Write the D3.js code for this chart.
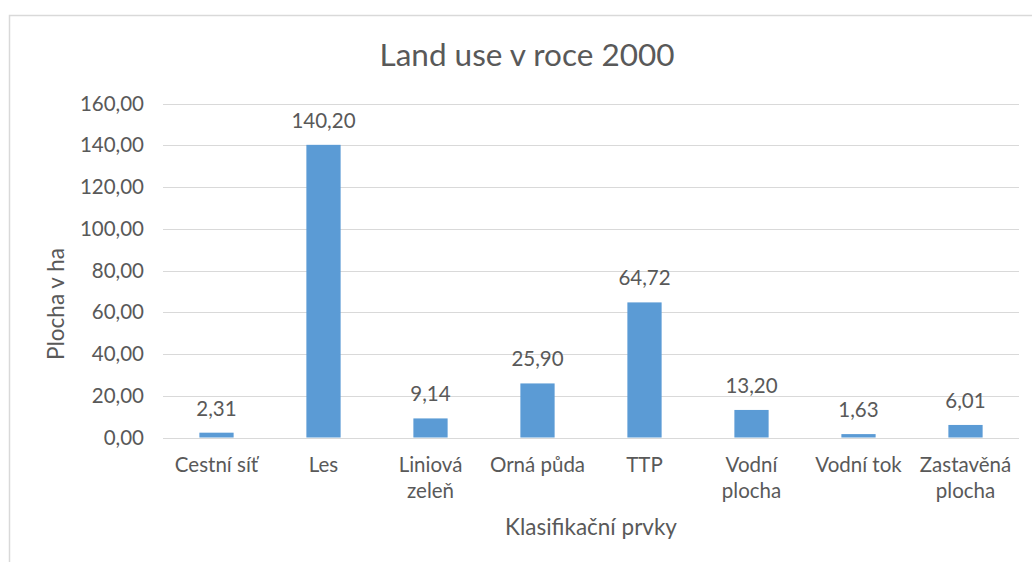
<!DOCTYPE html>
<html>
<head>
<meta charset="utf-8">
<script src="https://cdn.jsdelivr.net/npm/d3@7"></script>
<style>
    body { margin: 0; background: #fff; }
    text { font-family: Lato, "Open Sans", sans-serif; fill: #595959; }
</style>
</head>
<body>
<div id="chart"></div>
<script>
const categories = ['Cestní síť', 'Les', 'Liniová zeleň', 'Orná půda', 'TTP', 'Vodní plocha', 'Vodní tok', 'Zastavěná plocha'];
const categoryLines = [['Cestní síť'], ['Les'], ['Liniová', 'zeleň'], ['Orná půda'], ['TTP'], ['Vodní', 'plocha'], ['Vodní tok'], ['Zastavěná', 'plocha']];
const values = [2.31, 140.20, 9.14, 25.90, 64.72, 13.20, 1.63, 6.01];
const yTicks = [0, 20, 40, 60, 80, 100, 120, 140, 160];

const width = 1032;
const height = 562;
const margin = { top: 103.5, right: 13, bottom: 124.5, left: 163 };
const labelSize = 20.5;

const fmt = (v) => v.toFixed(2).replace('.', ',');

const svg = d3.select('#chart')
    .append('svg')
    .attr('width', width)
    .attr('height', height);

// chart area border
svg.append('path')
    .attr('d', `M9.5,${height} V15.5 H${width}`)
    .attr('fill', 'none')
    .attr('stroke', '#d9d9d9')
    .attr('stroke-width', 1.5);

const x = d3.scaleBand()
    .domain(categories)
    .range([margin.left, width - margin.right])
    .paddingInner(0.68)
    .paddingOuter(0.34);

const y = d3.scaleLinear()
    .domain([0, 160])
    .range([height - margin.bottom, margin.top]);

// gridlines
svg.append('g')
    .selectAll('line')
    .data(yTicks)
    .join('line')
    .attr('x1', margin.left)
    .attr('x2', width - margin.right)
    .attr('y1', (d) => Math.round(y(d)) + 0.5)
    .attr('y2', (d) => Math.round(y(d)) + 0.5)
    .attr('stroke', '#d9d9d9')
    .attr('stroke-width', 1);

// y axis labels
const yAxis = svg.append('g')
    .attr('transform', `translate(${margin.left - 19},0)`)
    .call(d3.axisLeft(y).tickValues(yTicks).tickFormat(fmt).tickSize(0).tickPadding(0));
yAxis.select('.domain').remove();
yAxis.selectAll('text')
    .attr('font-size', labelSize)
    .attr('font-family', 'Lato, "Open Sans", sans-serif')
    .attr('fill', '#595959');

// bars
svg.append('g')
    .selectAll('rect')
    .data(values)
    .join('rect')
    .attr('x', (d, i) => x(categories[i]))
    .attr('width', x.bandwidth())
    .attr('y', (d) => y(d))
    .attr('height', (d) => y(0) - y(d))
    .attr('fill', '#5b9bd5');

// data labels
svg.append('g')
    .selectAll('text')
    .data(values)
    .join('text')
    .attr('x', (d, i) => x(categories[i]) + x.bandwidth() / 2)
    .attr('y', (d) => y(d) - 17)
    .attr('text-anchor', 'middle')
    .attr('font-size', labelSize)
    .text(fmt);

// category labels
const catGroup = svg.append('g')
    .selectAll('text')
    .data(categoryLines)
    .join('text')
    .attr('x', (d, i) => x(categories[i]) + x.bandwidth() / 2)
    .attr('y', 472)
    .attr('text-anchor', 'middle')
    .attr('font-size', labelSize);
catGroup.selectAll('tspan')
    .data((d) => d)
    .join('tspan')
    .attr('x', function () { return this.parentNode.getAttribute('x'); })
    .attr('dy', (d, i) => (i === 0 ? 0 : 26))
    .text((d) => d);

// titles
svg.append('text')
    .attr('x', 527)
    .attr('y', 66)
    .attr('text-anchor', 'middle')
    .attr('font-size', 31.5)
    .text('Land use v roce 2000');

svg.append('text')
    .attr('x', (margin.left + width - margin.right) / 2)
    .attr('y', 535)
    .attr('text-anchor', 'middle')
    .attr('font-size', 22.5)
    .text('Klasifikační prvky');

svg.append('text')
    .attr('transform', 'translate(64,304) rotate(-90)')
    .attr('text-anchor', 'middle')
    .attr('font-size', 22.5)
    .text('Plocha v ha');
</script>
</body>
</html>
